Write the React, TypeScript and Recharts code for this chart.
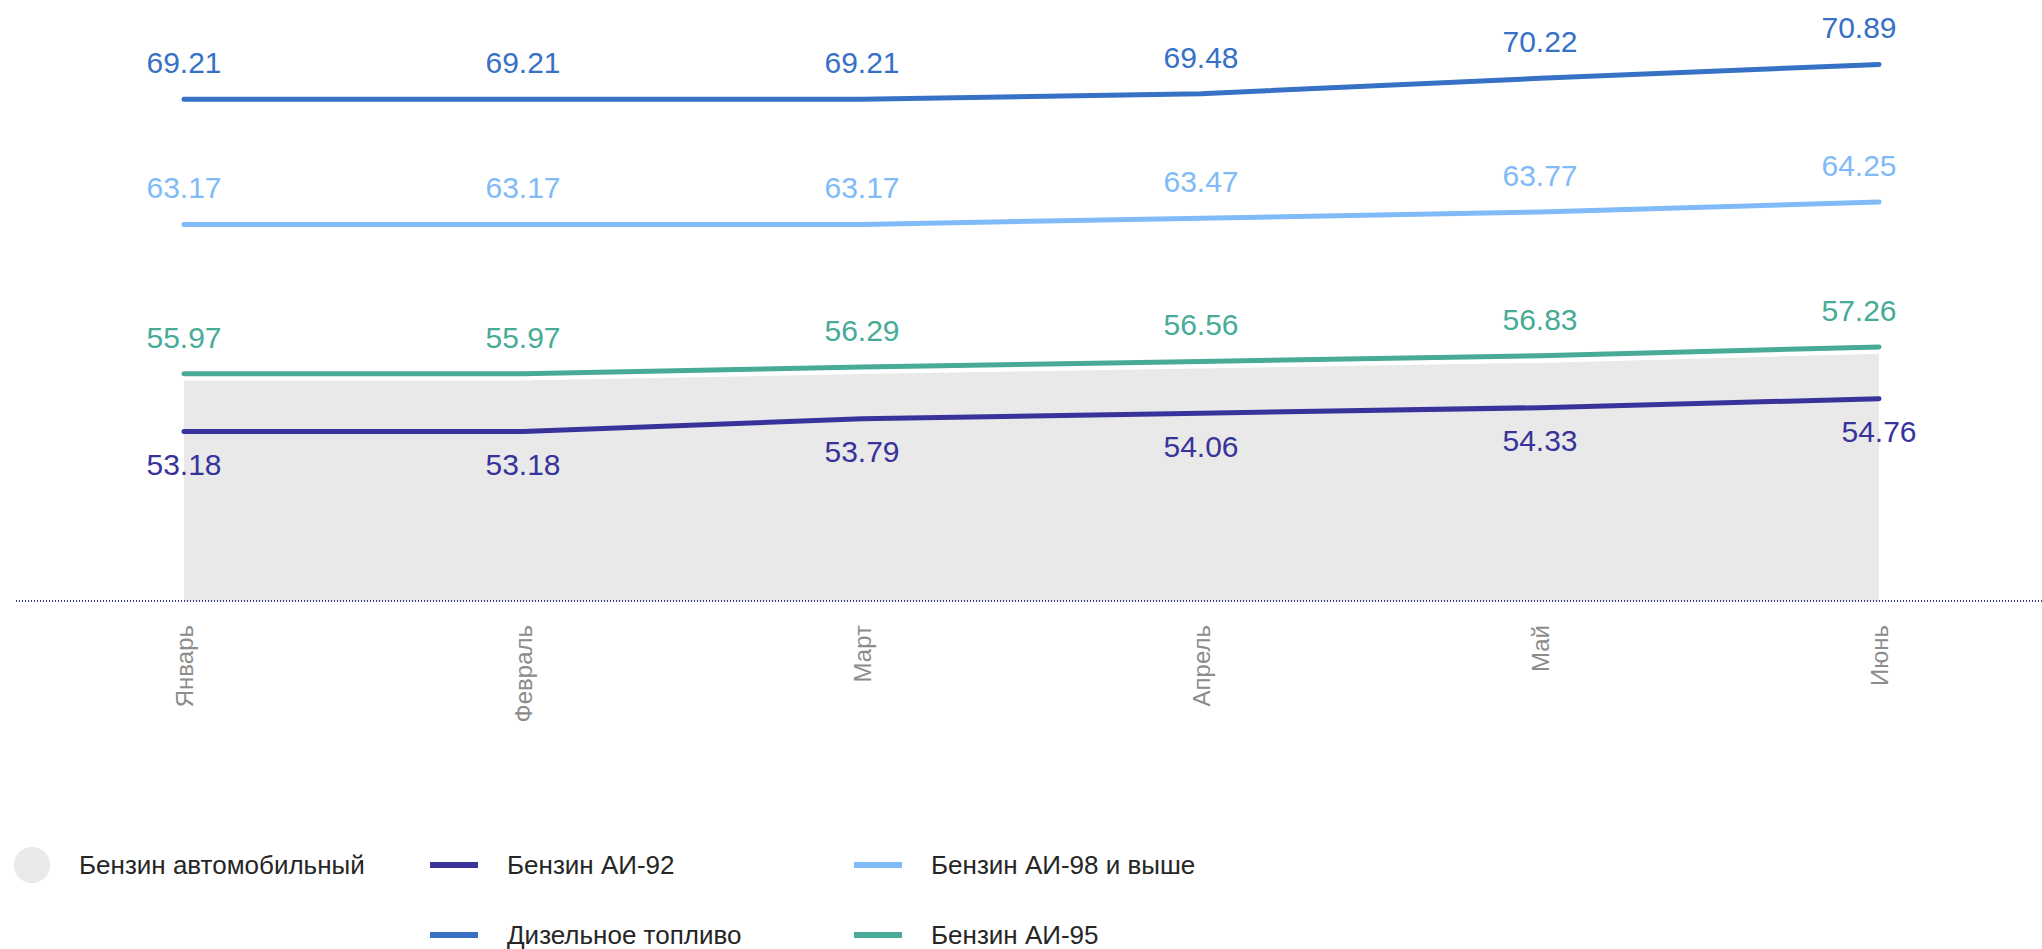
import { ComposedChart, Area, Line, XAxis, YAxis, LabelList } from "recharts";

const months = ["Январь", "Февраль", "Март", "Апрель", "Май", "Июнь"];
const autoGas = [55.64, 55.64, 55.95, 56.22, 56.49, 56.93];
const ai92 = [53.18, 53.18, 53.79, 54.06, 54.33, 54.76];
const ai95 = [55.97, 55.97, 56.29, 56.56, 56.83, 57.26];
const ai98 = [63.17, 63.17, 63.17, 63.47, 63.77, 64.25];
const diesel = [69.21, 69.21, 69.21, 69.48, 70.22, 70.89];

const data = months.map((month, i) => ({
  month,
  autoGas: autoGas[i],
  ai92: ai92[i],
  ai95: ai95[i],
  ai98: ai98[i],
  diesel: diesel[i],
}));

const FONT = "'Liberation Sans', Arial, sans-serif";

const COLORS = {
  autoGas: "#e9e9e9",
  ai92: "#38339a",
  ai95: "#47ab97",
  ai98: "#80bbf8",
  diesel: "#3671c6",
};

// labels over the line; the last one is nudged left like in the source
const topLabel = (color: string) => (props: any) => {
  const { x, y, value, index } = props;
  const shift = index === months.length - 1 ? 20 : 0;
  return (
    <text x={x - shift} y={y - 26} textAnchor="middle" fill={color} fontSize={30} fontFamily={FONT}>
      {Number(value).toFixed(2)}
    </text>
  );
};

const bottomLabel = (color: string) => (props: any) => {
  const { x, y, value } = props;
  return (
    <text x={x} y={y + 22} dy="0.72em" textAnchor="middle" fill={color} fontSize={30} fontFamily={FONT}>
      {Number(value).toFixed(2)}
    </text>
  );
};

const MonthTick = ({ x, y, payload }: any) => (
  <g transform={`translate(${x},${y})`}>
    <text
      transform="rotate(-90)"
      x={-16}
      y={0}
      dy="0.36em"
      textAnchor="end"
      fill="#8c8c8c"
      fontSize={24}
      fontFamily={FONT}
    >
      {payload.value}
    </text>
  </g>
);

const legendItems = [
  { key: "autoGas", label: "Бензин автомобильный", kind: "circle", col: 1, row: 1 },
  { key: "ai92", label: "Бензин АИ-92", kind: "line", col: 2, row: 1 },
  { key: "ai98", label: "Бензин АИ-98 и выше", kind: "line", col: 3, row: 1 },
  { key: "diesel", label: "Дизельное топливо", kind: "line", col: 2, row: 2 },
  { key: "ai95", label: "Бензин АИ-95", kind: "line", col: 3, row: 2 },
];

export default function App() {
  return (
    <div style={{ position: "relative", width: 2042, height: 949, overflow: "hidden", background: "#fff" }}>
      <style>{"body{margin:0}"}</style>
      <ComposedChart width={2042} height={780} data={data} margin={{ top: 0, right: 0, left: 16, bottom: 0 }}>
        <XAxis
          dataKey="month"
          height={179}
          padding={{ left: 168, right: 163 }}
          tickLine={false}
          axisLine={{ stroke: "#333a8c", strokeWidth: 2, strokeDasharray: "1 2" }}
          tick={<MonthTick />}
          interval={0}
        />
        <YAxis hide domain={[45, 74]} />
        <Area
          dataKey="autoGas"
          type="linear"
          fill={COLORS.autoGas}
          fillOpacity={1}
          stroke="none"
          isAnimationActive={false}
          activeDot={false}
        />
        <Line dataKey="ai92" type="linear" stroke={COLORS.ai92} strokeWidth={5} strokeLinecap="round" dot={false} activeDot={false} isAnimationActive={false}>
          <LabelList dataKey="ai92" content={bottomLabel(COLORS.ai92)} />
        </Line>
        <Line dataKey="ai95" type="linear" stroke={COLORS.ai95} strokeWidth={5} strokeLinecap="round" dot={false} activeDot={false} isAnimationActive={false}>
          <LabelList dataKey="ai95" content={topLabel(COLORS.ai95)} />
        </Line>
        <Line dataKey="ai98" type="linear" stroke={COLORS.ai98} strokeWidth={5} strokeLinecap="round" dot={false} activeDot={false} isAnimationActive={false}>
          <LabelList dataKey="ai98" content={topLabel(COLORS.ai98)} />
        </Line>
        <Line dataKey="diesel" type="linear" stroke={COLORS.diesel} strokeWidth={5} strokeLinecap="round" dot={false} activeDot={false} isAnimationActive={false}>
          <LabelList dataKey="diesel" content={topLabel(COLORS.diesel)} />
        </Line>
      </ComposedChart>

      {/* Legend */}
      <div
        style={{
          position: "absolute",
          top: 845,
          left: 14,
          display: "grid",
          gridTemplateColumns: "416px 424px auto",
          gridTemplateRows: "40px 40px",
          rowGap: 30,
          fontFamily: FONT,
          fontSize: 26,
          color: "#262626",
        }}
      >
        {legendItems.map((item) => (
          <div
            key={item.key}
            style={{ gridColumn: item.col, gridRow: item.row, display: "flex", alignItems: "center", gap: 29, whiteSpace: "nowrap" }}
          >
            {item.kind === "circle" ? (
              <div style={{ width: 36, height: 36, borderRadius: 18, background: COLORS[item.key as keyof typeof COLORS] }} />
            ) : (
              <div style={{ width: 48, height: 6, background: COLORS[item.key as keyof typeof COLORS] }} />
            )}
            <span>{item.label}</span>
          </div>
        ))}
      </div>
    </div>
  );
}
